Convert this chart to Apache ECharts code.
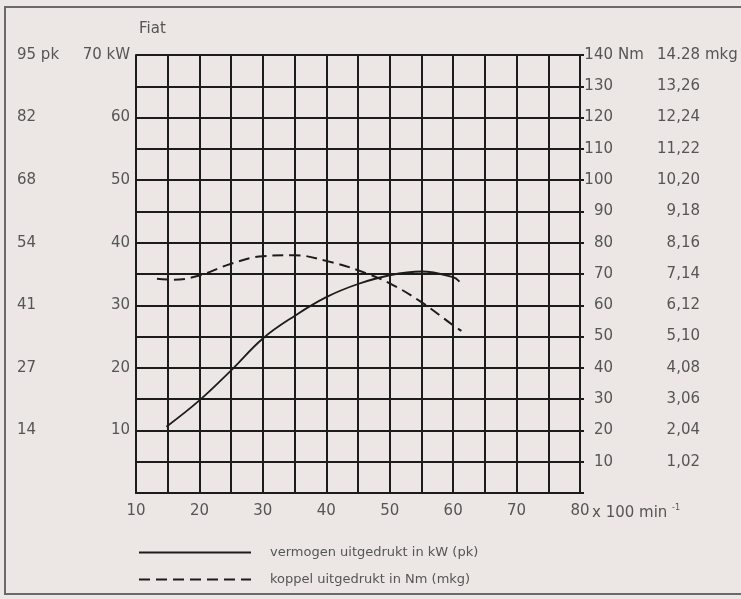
<!DOCTYPE html>
<html>
<head>
<meta charset="utf-8">
<script src="https://cdn.jsdelivr.net/npm/echarts@6/dist/echarts.min.js"></script>
<style>
  html, body { margin: 0; padding: 0; background: #ece7e5; }
  #chart { width: 741px; height: 599px; }
</style>
</head>
<body>
<div id="chart"></div>
<script>
// toerental x 100 min-1
var powerRpm = [14.8, 20, 25, 30, 35, 40, 45, 50, 55, 60, 61];
var powerKw = [10.6, 14.8, 19.6, 24.7, 28.3, 31.3, 33.4, 34.8, 35.4, 34.5, 33.8];
var torqueRpm = [13.3, 16, 20, 25, 30, 35, 40, 45, 50, 55, 60, 61.3];
var torqueNm = [68.5, 68.2, 69.5, 73.3, 75.7, 76, 74.2, 71.2, 67, 61, 53.6, 51.8];

// tick labels
var kwTicks = [10, 20, 30, 40, 50, 60, 70];
var pkTicks = ['14', '27', '41', '54', '68', '82', '95 pk'];
var nmTicks = [10, 20, 30, 40, 50, 60, 70, 80, 90, 100, 110, 120, 130, 140];
var mkgTicks = ['1,02', '2,04', '3,06', '4,08', '5,10', '6,12', '7,14', '8,16', '9,18', '10,20', '11,22', '12,24', '13,26', '14.28'];

var font = '"DejaVu Sans", Verdana, sans-serif';
var grey = '#555555';
var ink = '#1c1c1c';

var chart = echarts.init(document.getElementById('chart'));

function zip(xs, ys) {
  return xs.map(function (x, i) { return [x, ys[i]]; });
}

var labelBase = { color: grey, fontFamily: font, fontSize: 15 };

var option = {
  backgroundColor: '#ece7e5',
  animation: false,
  title: {
    text: 'Fiat',
    left: 134,
    top: 17,
    textStyle: { color: grey, fontFamily: font, fontSize: 15, fontWeight: 'normal' }
  },
  graphic: [{
    type: 'rect',
    shape: { x: 5, y: 7, width: 745, height: 587 },
    style: { fill: 'none', stroke: '#6a6a6a', lineWidth: 2 },
    silent: true
  }],
  legend: {
    orient: 'vertical',
    left: 133,
    top: 541,
    itemWidth: 112,
    itemHeight: 14,
    itemGap: 14,
    itemStyle: { opacity: 0 },
    textStyle: { color: grey, fontFamily: font, fontSize: 13, padding: [0, 0, 0, 14] },
    data: ['vermogen uitgedrukt in kW (pk)', 'koppel uitgedrukt in Nm (mkg)']
  },
  grid: { left: 136, right: 161, top: 55, bottom: 106 },
  xAxis: [{
    type: 'value',
    min: 10,
    max: 80,
    interval: 5,
    axisLine: { show: true, lineStyle: { color: ink, width: 2 } },
    axisTick: { show: false },
    splitLine: { show: true, lineStyle: { color: ink, width: 2 } },
    axisLabel: Object.assign({}, labelBase, {
      margin: 11,
      formatter: function (v) { return v % 10 === 0 ? String(v) : ''; }
    })
  }, {
    type: 'value',
    position: 'bottom',
    min: 10,
    max: 80,
    interval: 5,
    axisLine: { show: false },
    axisTick: { show: false },
    splitLine: { show: false },
    axisLabel: Object.assign({}, labelBase, {
      margin: 11,
      align: 'left',
      padding: [0, 0, 0, 12],
      formatter: function (v) { return v === 80 ? 'x 100 min {s|-1}' : ''; },
      rich: { s: { color: grey, fontFamily: font, fontSize: 8, padding: [0, 0, 10, 0] } }
    })
  }],
  yAxis: [{
    // kW
    type: 'value',
    position: 'left',
    min: 0,
    max: 70,
    interval: 5,
    axisLine: { show: true, lineStyle: { color: ink, width: 2 } },
    axisTick: { show: false },
    splitLine: { show: true, lineStyle: { color: ink, width: 2 } },
    axisLabel: Object.assign({}, labelBase, {
      margin: 6,
      formatter: function (v) {
        if (v === 70) return '70 kW';
        return kwTicks.indexOf(v) >= 0 ? String(v) : '';
      }
    })
  }, {
    // pk
    type: 'value',
    position: 'left',
    offset: 119,
    min: 0,
    max: 70,
    interval: 5,
    axisLine: { show: false },
    axisTick: { show: false },
    splitLine: { show: false },
    axisLabel: Object.assign({}, labelBase, {
      margin: 0,
      align: 'left',
      formatter: function (v) {
        var i = kwTicks.indexOf(v);
        return i >= 0 ? pkTicks[i] : '';
      }
    })
  }, {
    // Nm
    type: 'value',
    position: 'right',
    min: 0,
    max: 140,
    interval: 10,
    axisLine: { show: true, lineStyle: { color: ink, width: 2 } },
    axisTick: { show: true, length: 4, lineStyle: { color: ink, width: 2 } },
    splitLine: { show: false },
    axisLabel: Object.assign({}, labelBase, {
      margin: 33,
      align: 'right',
      formatter: function (v) { return nmTicks.indexOf(v) >= 0 ? String(v) : ''; }
    })
  }, {
    // Nm unit
    type: 'value',
    position: 'right',
    min: 0,
    max: 140,
    interval: 10,
    axisLine: { show: false },
    axisTick: { show: false },
    splitLine: { show: false },
    axisLabel: Object.assign({}, labelBase, {
      margin: 38,
      align: 'left',
      formatter: function (v) { return v === 140 ? 'Nm' : ''; }
    })
  }, {
    // mkg
    type: 'value',
    position: 'right',
    min: 0,
    max: 140,
    interval: 10,
    axisLine: { show: false },
    axisTick: { show: false },
    splitLine: { show: false },
    axisLabel: Object.assign({}, labelBase, {
      margin: 120,
      align: 'right',
      formatter: function (v) {
        var i = nmTicks.indexOf(v);
        return i >= 0 ? mkgTicks[i] : '';
      }
    })
  }, {
    // mkg unit
    type: 'value',
    position: 'right',
    min: 0,
    max: 140,
    interval: 10,
    axisLine: { show: false },
    axisTick: { show: false },
    splitLine: { show: false },
    axisLabel: Object.assign({}, labelBase, {
      margin: 125,
      align: 'left',
      formatter: function (v) { return v === 140 ? 'mkg' : ''; }
    })
  }],
  series: [{
    name: 'vermogen uitgedrukt in kW (pk)',
    type: 'line',
    xAxisIndex: 0,
    yAxisIndex: 0,
    smooth: 0.4,
    symbol: 'none',
    lineStyle: { color: ink, width: 1.8 },
    itemStyle: { color: ink },
    data: zip(powerRpm, powerKw)
  }, {
    name: 'koppel uitgedrukt in Nm (mkg)',
    type: 'line',
    xAxisIndex: 0,
    yAxisIndex: 2,
    smooth: 0.4,
    symbol: 'none',
    lineStyle: { color: ink, width: 2, type: [11, 6] },
    itemStyle: { color: ink },
    data: zip(torqueRpm, torqueNm)
  }]
};

chart.setOption(option);
</script>
</body>
</html>
